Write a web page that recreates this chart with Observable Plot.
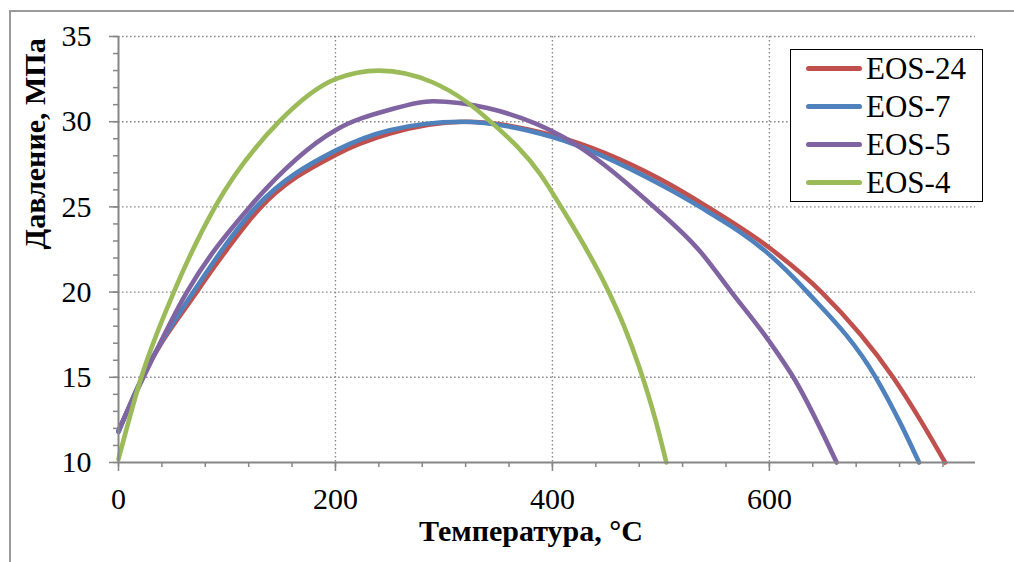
<!DOCTYPE html>
<html>
<head>
<meta charset="utf-8">
<script src="https://cdn.jsdelivr.net/npm/d3@7"></script>
<script src="https://cdn.jsdelivr.net/npm/@observablehq/plot@0.6"></script>
<style>
  html, body { margin: 0; padding: 0; background: #fff; }
  #wrap { position: relative; width: 1014px; height: 562px; overflow: hidden; font-family: "Liberation Serif", "DejaVu Serif", serif; }
  #frame { position: absolute; left: 9px; top: 10px; width: 1100px; height: 700px; border-left: 2px solid #9a9a9a; border-top: 2px solid #9a9a9a; box-sizing: border-box; }
  #chart { position: absolute; left: 0; top: 0; }
  #legend { position: absolute; left: 790px; top: 49px; width: 193px; height: 153px; box-sizing: border-box; border: 1.5px solid #000; background: #fff; }
  .row { position: absolute; left: 0; height: 38px; width: 100%; }
  .sw { position: absolute; left: 15px; width: 56px; height: 5px; border-radius: 3px; top: 16px; }
  .lb { position: absolute; left: 75px; top: 0; font-size: 31px; line-height: 38px; color: #000; white-space: nowrap; font-family: "Liberation Serif", "DejaVu Serif", serif; }
</style>
</head>
<body>
<div id="wrap">
  <div id="frame"></div>
  <div id="chart"></div>
  <div id="legend"></div>
</div>
<script>
// Series names and colours
const seriesNames = ["EOS-24", "EOS-7", "EOS-5", "EOS-4"];
const seriesColors = ["#C0504D", "#4F81BD", "#8064A2", "#9BBB59"];

// Values: temperature (°C) and pressure (MPa)
const tEOS24 = [0, 22, 72, 100, 130, 200, 250, 320, 400, 500, 543, 600, 648, 714, 740, 762];
const pEOS24 = [11.8, 15, 20, 22.5, 24.9, 28.05, 29.3, 30.0, 29.2, 26.6, 25, 22.6, 20, 15, 12.4, 10];

const tEOS7 = [0, 22, 69, 127, 200, 250, 315, 400, 500, 536, 600, 635, 698, 720, 738];
const pEOS7 = [11.8, 15, 20, 25, 28.3, 29.5, 30.0, 29.1, 26.3, 25, 22.2, 20, 15, 12.4, 10];

const tEOS5 = [0, 23, 63, 121, 200, 250, 290, 340, 410, 490, 536, 565, 600, 624, 662];
const pEOS5 = [11.9, 15, 20, 25, 29.5, 30.7, 31.2, 30.8, 29.1, 25.2, 22.4, 20, 17.1, 14.8, 10];

const tEOS4 = [0, 21, 51, 89, 148, 200, 240, 290, 320, 343, 389, 408, 452, 466, 480, 495, 505];
const pEOS4 = [10.2, 15, 20, 25, 30, 32.5, 33.0, 32.3, 31.2, 30, 26.9, 25, 20, 18.0, 15.6, 12.5, 10];

// Axis ticks
const xMajor = [0, 200, 400, 600];
const xMinor = d3.range(0, 790, 40);
const yMajor = [10, 15, 20, 25, 30, 35];
const yMinor = d3.range(10, 36, 1);
const xDomain = [0, 790];
const yDomain = [10, 35];
const xTitle = "Температура, °C";
const yTitle = "Давление, МПа";

const seriesT = [tEOS24, tEOS7, tEOS5, tEOS4];
const seriesP = [pEOS24, pEOS7, pEOS5, pEOS4];
const rows = [];
seriesNames.forEach((name, i) => {
  seriesT[i].forEach((t, j) => rows.push({series: name, t, p: seriesP[i][j]}));
});

const axisColor = "#868686";
const gridStyle = {stroke: "#8a8a8a", strokeOpacity: 1, strokeWidth: 1.4, strokeDasharray: "1.6,2.4"};
const serif = "'Liberation Serif', 'DejaVu Serif', serif";

const chart = Plot.plot({
  width: 1014,
  height: 562,
  marginLeft: 118,
  marginRight: 39,
  marginTop: 36,
  marginBottom: 100,
  style: {fontFamily: serif, fontSize: "30px", background: "transparent", color: "#000"},
  x: {domain: xDomain},
  y: {domain: yDomain},
  color: {domain: seriesNames, range: seriesColors},
  marks: [
    Plot.gridX(xMajor.filter(d => d !== 0), gridStyle),
    Plot.gridY(yMajor.filter(d => d !== 10), gridStyle),
    Plot.line(rows, {x: "t", y: "p", z: "series", stroke: "series", strokeWidth: 4.6, curve: "monotone-x"}),
    Plot.ruleX([0], {stroke: axisColor, strokeWidth: 2}),
    Plot.ruleY([10], {stroke: axisColor, strokeWidth: 2}),
    Plot.axisX({ticks: xMinor, tickSize: 5, text: null, stroke: axisColor, strokeWidth: 1.5, label: null}),
    Plot.axisX({ticks: xMajor, tickSize: 9, tickPadding: 16, stroke: axisColor, strokeWidth: 1.5, fill: "#000", fontSize: 30, fontFamily: serif, label: null}),
    Plot.axisY({ticks: yMinor, tickSize: 5, text: null, stroke: axisColor, strokeWidth: 1.5, label: null}),
    Plot.axisY({ticks: yMajor, tickSize: 9, tickPadding: 18, stroke: axisColor, strokeWidth: 1.5, fill: "#000", fontSize: 30, fontFamily: serif, label: null}),
    Plot.text([xTitle], {frameAnchor: "bottom", dx: -16, dy: 69, fontSize: 30, fontWeight: "bold", fontFamily: serif, fill: "#000", lineAnchor: "middle"}),
    Plot.text([yTitle], {frameAnchor: "left", dx: -83, rotate: -90, fontSize: 30, fontWeight: "bold", fontFamily: serif, fill: "#000", lineAnchor: "middle"})
  ]
});
document.getElementById("chart").appendChild(chart);

// Legend
const legend = document.getElementById("legend");
seriesNames.forEach((name, i) => {
  const row = document.createElement("div");
  row.className = "row";
  row.style.top = (i * 38) + "px";
  const sw = document.createElement("div");
  sw.className = "sw";
  sw.style.background = seriesColors[i];
  const lb = document.createElement("div");
  lb.className = "lb";
  lb.textContent = name;
  row.appendChild(sw);
  row.appendChild(lb);
  legend.appendChild(row);
});
</script>
</body>
</html>
